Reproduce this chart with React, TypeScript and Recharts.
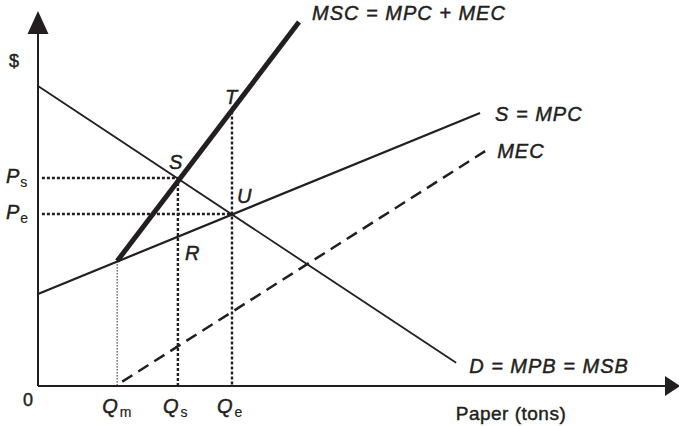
import React from 'react';
import { ComposedChart, Line, XAxis, YAxis, ReferenceLine, ReferenceDot } from 'recharts';

// Curves (q = tons of paper, p = $)
const demand = [ { q: 0, p: 80.2 }, { q: 106.7, p: 6.2 } ];
const mpc = [ { q: 0, p: 24.6 }, { q: 112.8, p: 73.0 } ];
const mec = [ { q: 20.2, p: 0.3 }, { q: 114.1, p: 62.8 } ];
const msc = [ { q: 20.2, p: 33.4 }, { q: 66.6, p: 97.3 } ];

// Key quantities and prices
const qNames = ['m', 's', 'e'];
const qValues = [20.2, 35.7, 49.5];
const qTops = [33.4, 55.6, 73.4];
const pNames = ['s', 'e'];
const pValues = [55.6, 46.0];
const pRight = [35.7, 49.5];

// Point labels
const pointNames = ['T', 'S', 'U', 'R'];
const pointQ = [49.5, 35.7, 49.5, 35.7];
const pointP = [73.4, 55.6, 46.0, 36.4];

const X_MAX = 160;
const Y_MAX = 100;
const Y_ARROW = 94.1;

const INK = '#231f20';
const FONT = '"Liberation Sans", Arial, Helvetica, sans-serif';

const textStyle = {
  fontFamily: FONT,
  fill: INK,
  stroke: INK,
  strokeWidth: 0.45,
};

const textAt = (dx: number, dy: number, content: React.ReactNode, extra: any = {}) => (props: any) => (
  <text x={props.cx + dx} y={props.cy + dy} style={textStyle} fontSize={20} fontStyle="italic" letterSpacing={1} {...extra}>
    {content}
  </text>
);

const pointOffsets: Record<string, [number, number]> = {
  T: [-7, -7],
  S: [-9, -9],
  U: [5, -11],
  R: [7, 10],
};

export default function App() {
  return (
    <div style={{ position: 'absolute', left: 0, top: 0 }}>
      <ComposedChart
        width={679}
        height={426}
        margin={{ top: 12, right: 14, bottom: 40, left: 38 }}
      >
        <XAxis dataKey="q" type="number" domain={[0, X_MAX]} hide />
        <YAxis type="number" domain={[0, Y_MAX]} hide />

        {/* axes */}
        <ReferenceLine segment={[{ x: 0, y: 0 }, { x: X_MAX, y: 0 }]} stroke={INK} strokeWidth={2} />
        <ReferenceLine segment={[{ x: 0, y: 0 }, { x: 0, y: Y_ARROW }]} stroke={INK} strokeWidth={2} />
        <ReferenceDot
          x={X_MAX}
          y={0}
          r={0}
          shape={(p: any) => (
            <polygon points={`${p.cx},${p.cy - 10} ${p.cx},${p.cy + 10} ${p.cx + 15},${p.cy}`} fill={INK} />
          )}
        />
        <ReferenceDot
          x={0}
          y={Y_ARROW}
          r={0}
          shape={(p: any) => (
            <polygon points={`${p.cx - 10.5},${p.cy} ${p.cx + 10.5},${p.cy} ${p.cx},${p.cy - 23}`} fill={INK} />
          )}
        />

        {/* dotted guides */}
        {pValues.map((pv, i) => (
          <ReferenceLine
            key={'ph' + i}
            segment={[{ x: 1, y: pv }, { x: pRight[i], y: pv }]}
            stroke={INK}
            strokeWidth={2.4}
            strokeDasharray="3 2"
          />
        ))}
        {qValues.map((qv, i) => (
          <ReferenceLine
            key={'qv' + i}
            segment={[{ x: qv, y: qTops[i] }, { x: qv, y: 0 }]}
            stroke={INK}
            strokeWidth={i === 0 ? 1 : 2.4}
            strokeDasharray={i === 0 ? '1.5 1.5' : '3 2'}
          />
        ))}

        {/* curves */}
        <Line data={demand} dataKey="p" stroke={INK} strokeWidth={1.8} dot={false} isAnimationActive={false} />
        <Line data={mpc} dataKey="p" stroke={INK} strokeWidth={2.2} dot={false} isAnimationActive={false} />
        <Line data={mec} dataKey="p" stroke={INK} strokeWidth={2.5} strokeDasharray="0 6 12 1" dot={false} isAnimationActive={false} />
        <Line data={msc} dataKey="p" stroke={INK} strokeWidth={5} dot={false} isAnimationActive={false} />

        {/* curve labels */}
        <ReferenceDot x={msc[1].q} y={msc[1].p} r={0} shape={textAt(13, -2, 'MSC = MPC + MEC')} />
        <ReferenceDot x={mpc[1].q} y={mpc[1].p} r={0} shape={textAt(15, 8, 'S = MPC')} />
        <ReferenceDot x={mec[1].q} y={mec[1].p} r={0} shape={textAt(12, 7, 'MEC')} />
        <ReferenceDot x={demand[1].q} y={demand[1].p} r={0} shape={textAt(13, 10, 'D = MPB = MSB')} />

        {/* point labels */}
        {pointNames.map((n, i) => (
          <ReferenceDot
            key={'pt' + n}
            x={pointQ[i]}
            y={pointP[i]}
            r={0}
            shape={textAt(pointOffsets[n][0], pointOffsets[n][1], n)}
          />
        ))}

        {/* quantity labels */}
        {qValues.map((qv, i) => (
          <ReferenceDot
            key={'ql' + i}
            x={qv}
            y={0}
            r={0}
            shape={textAt(-15, 27, (
              <>
                <tspan>Q</tspan>
                <tspan fontStyle="normal" fontSize={14} letterSpacing={0} strokeWidth={0.2} dx={1} dy={4}>{qNames[i]}</tspan>
              </>
            ))}
          />
        ))}

        {/* price labels */}
        {pValues.map((pv, i) => (
          <ReferenceDot
            key={'pl' + i}
            x={0}
            y={pv}
            r={0}
            shape={textAt(-32, 5, (
              <>
                <tspan>P</tspan>
                <tspan fontStyle="normal" fontSize={14} letterSpacing={0} strokeWidth={0.2} dx={0} dy={4}>{pNames[i]}</tspan>
              </>
            ))}
          />
        ))}

        {/* axis labels */}
        <ReferenceDot x={0} y={0} r={0} shape={textAt(-10, 20, '0', { fontStyle: 'normal', fontSize: 18, letterSpacing: 0, textAnchor: 'middle' })} />
        <ReferenceDot x={0} y={Y_ARROW} r={0} shape={textAt(-24, 33, '$', { fontStyle: 'normal', fontSize: 18, letterSpacing: 0, textAnchor: 'middle' })} />
        <ReferenceDot x={120.7} y={0} r={0} shape={textAt(0, 34, 'Paper (tons)', { fontStyle: 'normal', fontSize: 19, letterSpacing: 0.5, textAnchor: 'middle' })} />
      </ComposedChart>
    </div>
  );
}
